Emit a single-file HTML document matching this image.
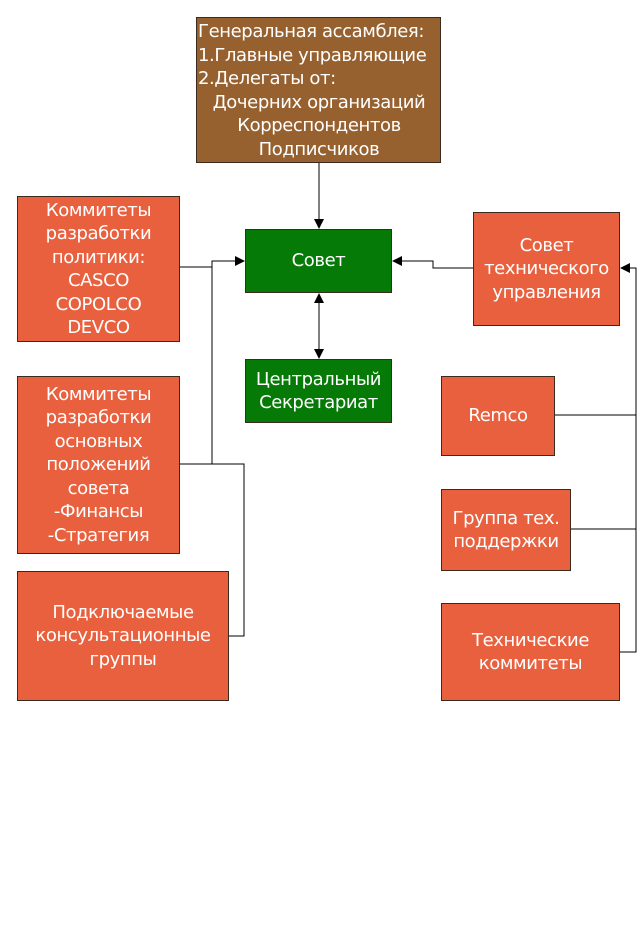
<!DOCTYPE html>
<html><head><meta charset="utf-8"><style>
body{margin:0;background:#fff;width:642px;height:926px;position:relative;overflow:hidden;font-family:"DejaVu Sans","Liberation Sans",sans-serif;}
.b{position:absolute;box-sizing:border-box;border:1px solid #3a2a20;color:#fff;display:flex;align-items:center;justify-content:center;text-align:center;font-size:18px;line-height:23.5px;letter-spacing:-0.4px}
.r{background:#e9603f}
.g{background:#067a06}
</style></head><body>
<svg width="642" height="926" style="position:absolute;left:0;top:0">
<defs><marker id="a" markerWidth="10" markerHeight="10" refX="9" refY="5" orient="auto" markerUnits="userSpaceOnUse"><path d="M0,0 L10,5 L0,10 z" fill="#000"/></marker></defs>
<g stroke="#000" stroke-width="1" fill="none">
<line x1="319" y1="163" x2="319" y2="228" marker-end="url(#a)"/>
<line x1="319" y1="326" x2="319" y2="294" marker-end="url(#a)"/>
<line x1="319" y1="326" x2="319" y2="358" marker-end="url(#a)"/>
<polyline points="180,267 212,267 212,261 244,261" marker-end="url(#a)"/>
<polyline points="212,261 212,464"/>
<polyline points="180,464 244,464 244,636 229,636"/>
<polyline points="473,268 433,268 433,261 393,261" marker-end="url(#a)"/>
<polyline points="620,652 636,652 636,268 621,268" marker-end="url(#a)"/>
<line x1="555" y1="415" x2="636" y2="415"/>
<line x1="571" y1="529" x2="636" y2="529"/>
</g></svg>
<div class="b" style="left:196px;top:17px;width:245px;height:146px;background:#97612f;display:block;text-align:left;padding:2px 0 0 1px;white-space:nowrap">Генеральная ассамблея:<br>1.Главные управляющие<br>2.Делегаты от:<div style="text-align:center">Дочерних организаций<br>Корреспондентов<br>Подписчиков</div></div>
<div class="b r" style="left:17px;top:196px;width:163px;height:146px">Коммитеты<br>разработки<br>политики:<br>CASCO<br>COPOLCO<br>DEVCO</div>
<div class="b g" style="left:245px;top:229px;width:147px;height:64px">Совет</div>
<div class="b g" style="left:245px;top:359px;width:147px;height:64px">Центральный<br>Секретариат</div>
<div class="b r" style="left:473px;top:212px;width:147px;height:114px">Совет<br>технического<br>управления</div>
<div class="b r" style="left:17px;top:376px;width:163px;height:178px">Коммитеты<br>разработки<br>основных<br>положений<br>совета<br>-Финансы<br>-Стратегия</div>
<div class="b r" style="left:17px;top:571px;width:212px;height:130px">Подключаемые<br>консультационные<br>группы</div>
<div class="b r" style="left:441px;top:376px;width:114px;height:80px">Remco</div>
<div class="b r" style="left:441px;top:489px;width:130px;height:82px">Группа тех.<br>поддержки</div>
<div class="b r" style="left:441px;top:603px;width:179px;height:98px">Технические<br>коммитеты</div>
</body></html>
